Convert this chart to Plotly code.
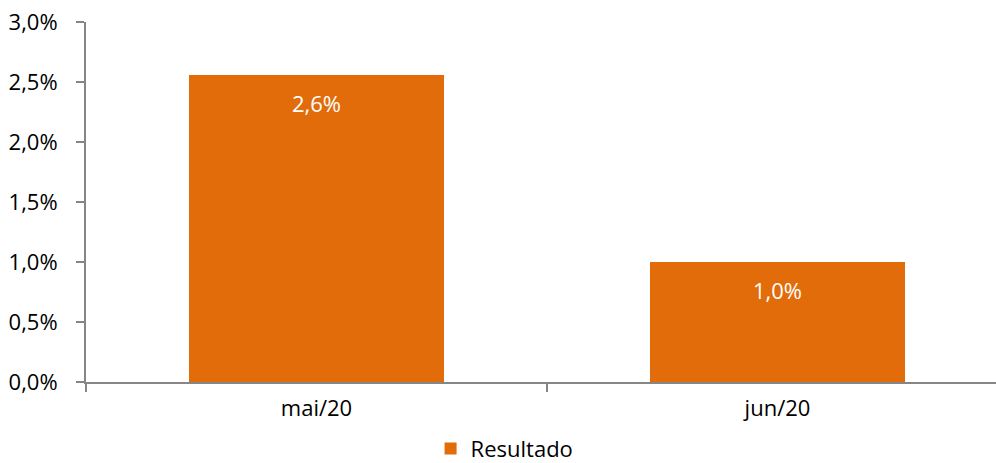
import plotly.graph_objects as go

# dados
meses = ["mai/20", "jun/20"]
resultado = [0.0256, 0.0100]
rotulos = ["2,6%", "1,0%"]

laranja = "#E36C0A"
cinza = "#868686"
fonte = "Open Sans"

fig = go.Figure()

fig.add_trace(go.Bar(
    x=meses,
    y=resultado,
    name="Resultado",
    marker=dict(color=laranja, line=dict(width=0)),
    width=0.553,
    showlegend=True))

# rótulos de dados dentro das barras, perto do topo
for m, v, r in zip(meses, resultado, rotulos):
    fig.add_annotation(x=m, y=v, text=r, showarrow=False,
                       yshift=-28, font=dict(family=fonte, size=22, color="white"))

fig.update_layout(
    width=996, height=463,
    margin=dict(l=86, r=0, t=22, b=81, autoexpand=False),
    plot_bgcolor="white", paper_bgcolor="white",
    separators=",.",
    font=dict(family=fonte, size=22, color="black"),
    bargap=0,
    legend=dict(orientation="h", x=0.46, xanchor="center", y=-0.185, yanchor="middle",
                font=dict(size=22), itemwidth=30),
    xaxis=dict(range=[-0.5, 1.474], showline=True, linecolor=cinza, linewidth=2,
               ticks="outside", tickson="boundaries", ticklen=8, tickcolor=cinza,
               tickwidth=2, showgrid=False, zeroline=False, automargin=False,
               ticklabelstandoff=6, tickfont=dict(size=22)),
    yaxis=dict(range=[0, 0.03], dtick=0.005, tickformat=".1%", showline=True,
               linecolor=cinza, linewidth=2, ticks="outside", ticklen=8,
               tickcolor=cinza, tickwidth=2, showgrid=False, zeroline=False,
               automargin=False, ticklabelstandoff=14, tickfont=dict(size=22)),
)

# sem margem da página e sem barra de ferramentas
fig.write_html("out.html", config={"displayModeBar": False},
               post_script="document.body.style.margin='0';")
